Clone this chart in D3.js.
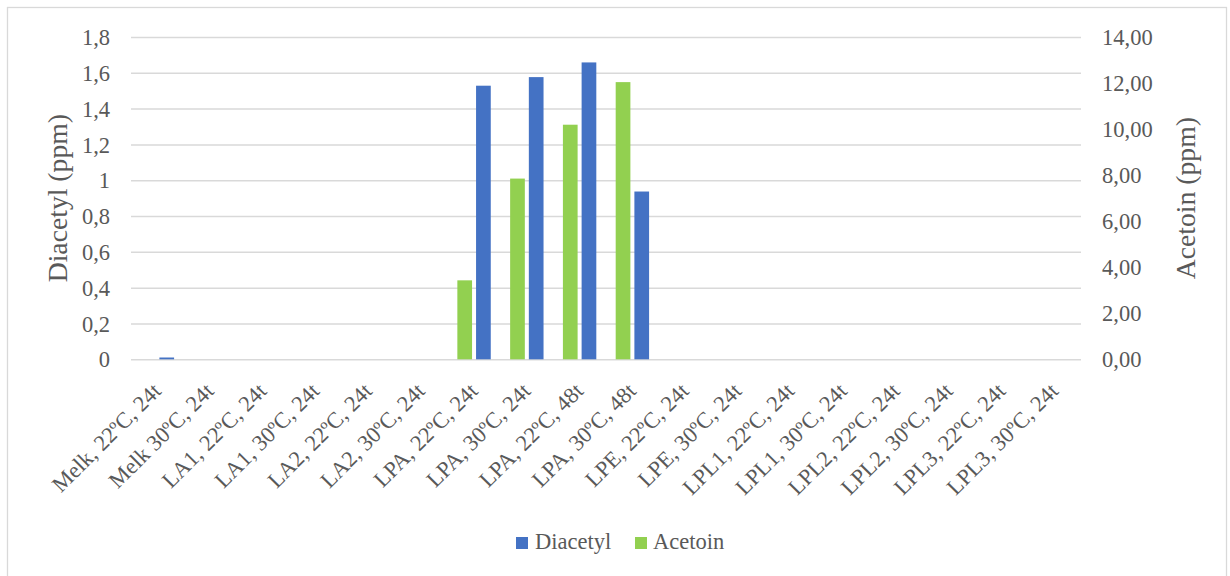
<!DOCTYPE html>
<html>
<head>
<meta charset="utf-8">
<script src="https://cdn.jsdelivr.net/npm/d3@7"></script>
<style>
  html, body { margin: 0; padding: 0; background: #fff; }
  svg { display: block; }
  text { font-family: "Liberation Serif", "Times New Roman", serif; fill: #595959; }
</style>
</head>
<body>
<svg id="chart" width="1230" height="576"></svg>
<script>
// Samples: medium, temperature, incubation time
const categories = [
  "Melk, 22ºC, 24t", "Melk 30ºC, 24t",
  "LA1, 22ºC, 24t", "LA1, 30ºC, 24t",
  "LA2, 22ºC, 24t", "LA2, 30ºC, 24t",
  "LPA, 22ºC, 24t", "LPA, 30ºC, 24t",
  "LPA, 22ºC, 48t", "LPA, 30ºC, 48t",
  "LPE, 22ºC, 24t", "LPE, 30ºC, 24t",
  "LPL1, 22ºC, 24t", "LPL1, 30ºC, 24t",
  "LPL2, 22ºC, 24t", "LPL2, 30ºC, 24t",
  "LPL3, 22ºC, 24t", "LPL3, 30ºC, 24t"
];

// Diacetyl (ppm), left axis
const diacetyl = [0.01, 0, 0, 0, 0, 0, 1.528, 1.576, 1.658, 0.937, 0, 0, 0, 0, 0, 0, 0, 0];
// Acetoin (ppm), right axis
const acetoin = [0, 0, 0, 0, 0, 0, 3.43, 7.85, 10.19, 12.04, 0, 0, 0, 0, 0, 0, 0, 0];

const leftTicks = [0, 0.2, 0.4, 0.6, 0.8, 1, 1.2, 1.4, 1.6, 1.8];
const rightTicks = [0, 2, 4, 6, 8, 10, 12, 14];

const seriesNames = ["Diacetyl", "Acetoin"];
const seriesColors = { Diacetyl: "#4472C4", Acetoin: "#92D050" };

const locale = d3.formatLocale({ decimal: ",", thousands: " ", grouping: [3], currency: ["", " kr"] });
const fmtLeft = d => locale.format("~g")(d);
const fmtRight = locale.format(".2f");

const svg = d3.select("#chart");
const W = 1230, H = 576;
const plot = { left: 131, right: 1081, top: 37, bottom: 359.3 };
const fontSize = 22.5;

// chart area frame
svg.append("rect")
  .attr("x", 7.5).attr("y", 7.5)
  .attr("width", 1219).attr("height", 620)
  .attr("fill", "#fff").attr("stroke", "#d9d9d9").attr("stroke-width", 1.3);

const x = d3.scaleBand().domain(categories).range([plot.left, plot.right]).padding(0);
const inner = d3.scaleBand().domain(["Acetoin", "Diacetyl"]).range([0, x.bandwidth()])
  .paddingInner(0.214).paddingOuter(0.518);
const yL = d3.scaleLinear().domain([0, 1.8]).range([plot.bottom, plot.top]);
const yR = d3.scaleLinear().domain([0, 14]).range([plot.bottom, plot.top]);

// left axis with gridlines
const gL = svg.append("g").attr("transform", `translate(${plot.left},0)`)
  .call(d3.axisLeft(yL).tickValues(leftTicks).tickFormat(fmtLeft)
    .tickSize(-(plot.right - plot.left)).tickPadding(21));
gL.select(".domain").remove();
gL.selectAll(".tick line").attr("stroke", "#d9d9d9").attr("stroke-width", 1.5);
gL.selectAll(".tick text").attr("font-size", fontSize).attr("dy", "0.34em")
  .style("font-family", "Liberation Serif").attr("fill", "#595959");

// right axis
const gR = svg.append("g").attr("transform", `translate(${plot.right},0)`)
  .call(d3.axisRight(yR).tickValues(rightTicks).tickFormat(fmtRight).tickSize(0).tickPadding(21));
gR.select(".domain").remove();
gR.selectAll(".tick text").attr("font-size", fontSize).attr("dy", "0.34em")
  .style("font-family", "Liberation Serif").attr("fill", "#595959");

// bars
const rows = categories.map((c, i) => ({ cat: c, Diacetyl: diacetyl[i], Acetoin: acetoin[i] }));
const barG = svg.append("g");
rows.forEach(r => {
  barG.append("rect")
    .attr("x", x(r.cat) + inner("Acetoin"))
    .attr("width", inner.bandwidth())
    .attr("y", yR(r.Acetoin))
    .attr("height", yR(0) - yR(r.Acetoin))
    .attr("fill", seriesColors.Acetoin);
  barG.append("rect")
    .attr("x", x(r.cat) + inner("Diacetyl"))
    .attr("width", inner.bandwidth())
    .attr("y", yL(r.Diacetyl))
    .attr("height", yL(0) - yL(r.Diacetyl))
    .attr("fill", seriesColors.Diacetyl);
});

// category axis
const gX = svg.append("g").attr("transform", `translate(0,${plot.bottom})`)
  .call(d3.axisBottom(x).tickSize(0));
gX.select(".domain").remove();
gX.selectAll(".tick text")
  .attr("font-size", fontSize)
  .style("font-family", "Liberation Serif")
  .attr("fill", "#595959")
  .attr("text-anchor", "end")
  .attr("x", 0).attr("y", 0).attr("dy", null)
  .attr("transform", "translate(5,33) rotate(-45)");

// axis titles
svg.append("text")
  .attr("transform", `translate(66.7,${(plot.top + plot.bottom) / 2}) rotate(-90)`)
  .attr("text-anchor", "middle").attr("font-size", 27.7)
  .text("Diacetyl (ppm)");
svg.append("text")
  .attr("transform", `translate(1195,${(plot.top + plot.bottom) / 2}) rotate(-90)`)
  .attr("text-anchor", "middle").attr("font-size", 27.7)
  .text("Acetoin (ppm)");

// legend
const legendItems = [
  { name: "Diacetyl", sx: 516, tx: 535 },
  { name: "Acetoin", sx: 635, tx: 653 }
];
const lg = svg.append("g");
legendItems.forEach(it => {
  lg.append("rect").attr("x", it.sx).attr("y", 537).attr("width", 12).attr("height", 12)
    .attr("fill", seriesColors[it.name]);
  lg.append("text").attr("x", it.tx).attr("y", 549).attr("font-size", fontSize).text(it.name);
});
</script>
</body>
</html>
